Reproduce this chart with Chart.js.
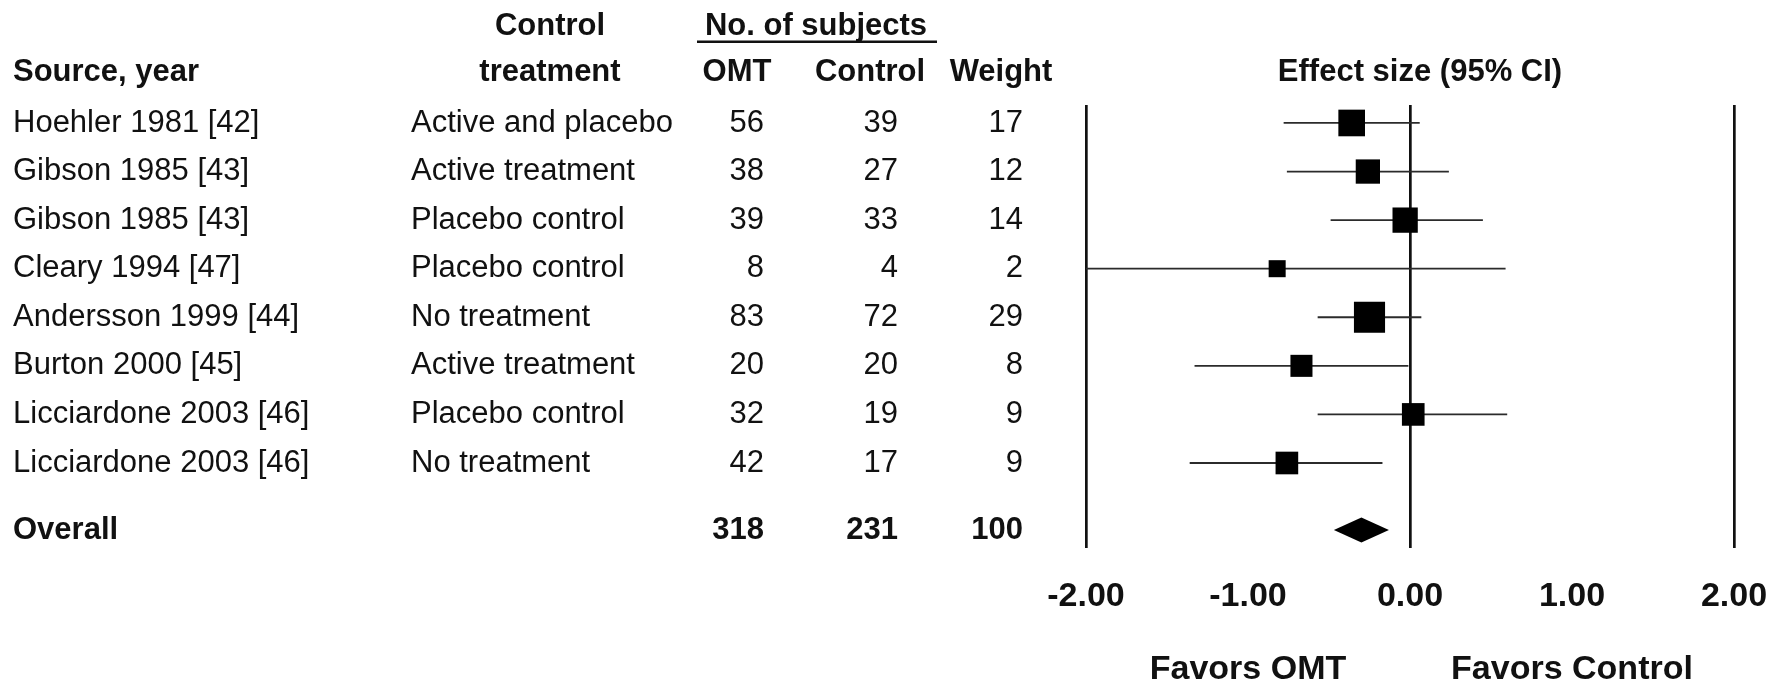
<!DOCTYPE html>
<html lang="en">
<head>
<meta charset="utf-8">
<title>Osteopathic manipulative treatment vs control: effect sizes</title>
<script src="https://cdn.jsdelivr.net/npm/chart.js@4.4.1/dist/chart.umd.min.js"></script>
<style>
  html, body { margin: 0; padding: 0; background: #fff; }
  canvas { display: block; }
</style>
</head>
<body>
<canvas id="forest" width="1771" height="682"></canvas>
<script>
// Trials, in display order
const sources = ['Hoehler 1981 [42]', 'Gibson 1985 [43]', 'Gibson 1985 [43]', 'Cleary 1994 [47]',
                 'Andersson 1999 [44]', 'Burton 2000 [45]', 'Licciardone 2003 [46]', 'Licciardone 2003 [46]'];
const controlTreatments = ['Active and placebo', 'Active treatment', 'Placebo control', 'Placebo control',
                           'No treatment', 'Active treatment', 'Placebo control', 'No treatment'];
const omtSubjects = [56, 38, 39, 8, 83, 20, 32, 42];
const controlSubjects = [39, 27, 33, 4, 72, 20, 19, 17];
const weights = [17, 12, 14, 2, 29, 8, 9, 9];

// Effect sizes with 95% confidence limits
const effectSizes = [-0.36, -0.26, -0.03, -0.82, -0.25, -0.67, 0.02, -0.76];
const ciLower = [-0.78, -0.76, -0.49, -2.00, -0.57, -1.33, -0.57, -1.36];
const ciUpper = [0.06, 0.24, 0.45, 0.59, 0.07, -0.01, 0.60, -0.17];

// Pooled result
const overallLabel = 'Overall';
const overallTotals = [318, 231, 100];   // OMT, Control, Weight
const overallEffect = -0.30;
const overallLower = -0.47;
const overallUpper = -0.13;

// Effect-size axis
const tickValues = [-2, -1, 0, 1, 2];
const referenceLines = [-2, 0, 2];
const directionLabels = ['Favors OMT', 'Favors Control'];
const directionAt = [-1, 1];

// ---- layout and style ----
const FONT = '"Liberation Sans", Arial, Helvetica, sans-serif';
const INK = '#111';
const overallRow = sources.length + 0.38;          // pooled row sits a little apart
const markerSide = w => 12 + 3.55 * Math.sqrt(w);  // square size grows with weight

const whiskerSets = sources.map((s, i) => ({
  type: 'line',
  label: s,
  data: [{ x: ciLower[i], y: i }, { x: ciUpper[i], y: i }],
  borderColor: '#2b2b2b',
  borderWidth: 1.8,
  pointRadius: 0,
  fill: false,
  order: 2
}));

const markerSet = {
  type: 'scatter',
  label: 'Effect size',
  data: effectSizes.map((v, i) => ({ x: v, y: i })),
  pointStyle: 'rect',
  pointRadius: ctx => markerSide(weights[ctx.dataIndex]) / Math.SQRT2,
  backgroundColor: '#000',
  borderWidth: 0,
  order: 1
};

function text(ctx, str, x, y, align) {
  ctx.textAlign = align;
  ctx.fillText(str, x, y);
}

// Pooled estimate drawn as a diamond spanning its confidence interval
const diamondPlugin = {
  id: 'pooledDiamond',
  afterDatasetsDraw(chart) {
    const { ctx, scales: { x, y } } = chart;
    const cy = y.getPixelForValue(overallRow);
    const half = 12.5;
    ctx.save();
    ctx.fillStyle = '#000';
    ctx.beginPath();
    ctx.moveTo(x.getPixelForValue(overallLower), cy);
    ctx.lineTo(x.getPixelForValue(overallEffect), cy - half);
    ctx.lineTo(x.getPixelForValue(overallUpper), cy);
    ctx.lineTo(x.getPixelForValue(overallEffect), cy + half);
    ctx.closePath();
    ctx.fill();
    ctx.restore();
  }
};

// Study table to the left of the plot, plus direction captions under the axis
const tablePlugin = {
  id: 'studyTable',
  afterDraw(chart) {
    const { ctx, scales: { x, y } } = chart;
    const head1 = 26, head2 = 72;
    const colSource = 13, colControl = 411;
    const rightOmt = 764, rightCtl = 898, rightWt = 1023;
    ctx.save();
    ctx.fillStyle = INK;
    ctx.textBaseline = 'middle';

    ctx.font = `bold 31px ${FONT}`;
    text(ctx, 'Source, year', colSource, head2, 'left');
    text(ctx, 'Control', 550, head1, 'center');
    text(ctx, 'treatment', 550, head2, 'center');
    text(ctx, 'No. of subjects', 816, head1, 'center');
    ctx.fillRect(697, 40.5, 240, 2.5);
    text(ctx, 'OMT', 737, head2, 'center');
    text(ctx, 'Control', 870, head2, 'center');
    text(ctx, 'Weight', 1001, head2, 'center');
    text(ctx, 'Effect size (95% CI)', 1420, head2, 'center');

    ctx.font = `31px ${FONT}`;
    sources.forEach((s, i) => {
      const py = y.getPixelForValue(i);
      text(ctx, s, colSource, py, 'left');
      text(ctx, controlTreatments[i], colControl, py, 'left');
      text(ctx, String(omtSubjects[i]), rightOmt, py, 'right');
      text(ctx, String(controlSubjects[i]), rightCtl, py, 'right');
      text(ctx, String(weights[i]), rightWt, py, 'right');
    });

    ctx.font = `bold 31px ${FONT}`;
    const oy = y.getPixelForValue(overallRow);
    text(ctx, overallLabel, colSource, oy, 'left');
    text(ctx, String(overallTotals[0]), rightOmt, oy, 'right');
    text(ctx, String(overallTotals[1]), rightCtl, oy, 'right');
    text(ctx, String(overallTotals[2]), rightWt, oy, 'right');

    ctx.font = `bold 34px ${FONT}`;
    directionLabels.forEach((lab, k) => {
      text(ctx, lab, x.getPixelForValue(directionAt[k]), 670, 'center');
    });
    ctx.restore();
  }
};

new Chart(document.getElementById('forest'), {
  data: { datasets: [...whiskerSets, markerSet] },
  plugins: [diamondPlugin, tablePlugin],
  options: {
    responsive: false,
    animation: false,
    events: [],
    layout: { padding: { left: 1086, right: 37, top: 105, bottom: 36 } },
    plugins: { legend: { display: false }, tooltip: { enabled: false } },
    scales: {
      x: {
        type: 'linear',
        position: 'bottom',
        min: -2,
        max: 2,
        afterBuildTicks: scale => { scale.ticks = tickValues.map(v => ({ value: v })); },
        ticks: {
          autoSkip: false,
          maxRotation: 0,
          padding: 0,
          color: INK,
          // a tall line box places the labels well below the plot
          font: { family: FONT, size: 34, weight: 'bold', lineHeight: '98px' },
          callback: v => Number(v).toFixed(2)
        },
        grid: {
          drawTicks: false,
          lineWidth: 2.7,
          color: c => (c.tick && referenceLines.includes(c.tick.value)) ? INK : 'rgba(0,0,0,0)'
        },
        border: { display: false }
      },
      y: {
        type: 'linear',
        display: false,
        reverse: true,
        min: -0.37,
        max: 8.75
      }
    }
  }
});
</script>
</body>
</html>
